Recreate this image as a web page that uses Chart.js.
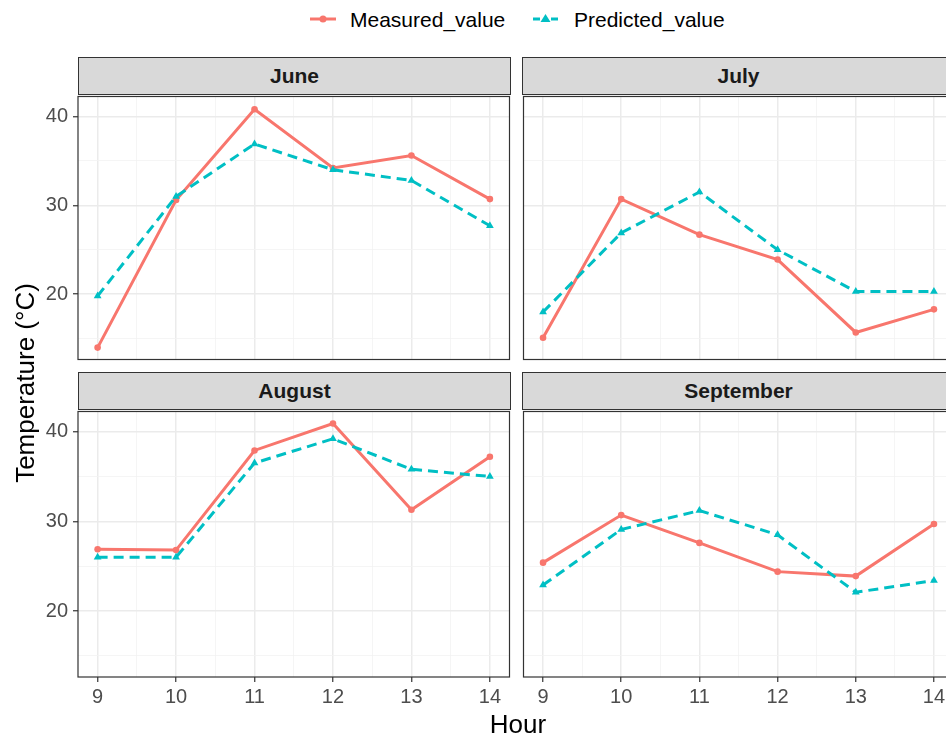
<!DOCTYPE html>
<html>
<head>
<meta charset="utf-8">
<script src="https://cdn.jsdelivr.net/npm/chart.js@4.4.0/dist/chart.umd.min.js"></script>
<style>
  body { margin: 0; background: #fff; }
  #wrap { position: relative; width: 946px; height: 738px; overflow: hidden; background: #fff;
          font-family: "Liberation Sans", Arial, sans-serif; }
  .strip { position: absolute; background: #D9D9D9; border: 1.2px solid #333; box-sizing: border-box;
           text-align: center; font-weight: bold; font-size: 21px; color: #1A1A1A; line-height: 36px; }
  .panel { position: absolute; }
  .legtext { position: absolute; top: 8px; font-size: 21px; line-height: 24px; color: #000; white-space: nowrap; }
  .title { position: absolute; font-size: 26px; line-height: 30px; color: #000; text-align: center; white-space: nowrap; }
</style>
</head>
<body>
<div id="wrap">
  <svg style="position:absolute;left:308px;top:9px" width="30" height="20">
    <line x1="2" y1="10" x2="28" y2="10" stroke="#F8766D" stroke-width="3"/>
    <circle cx="15" cy="10" r="3.5" fill="#F8766D"/>
  </svg>
  <div class="legtext" style="left:350px">Measured_value</div>
  <svg style="position:absolute;left:531px;top:9px" width="30" height="20">
    <line x1="2" y1="10" x2="9" y2="10" stroke="#00BFC4" stroke-width="3"/>
    <line x1="20" y1="10" x2="27" y2="10" stroke="#00BFC4" stroke-width="3"/>
    <polygon points="14.5,5 19.5,13 9.5,13" fill="#00BFC4"/>
  </svg>
  <div class="legtext" style="left:574px">Predicted_value</div>

  <div class="strip" style="left:78px;top:57px;width:433px;height:38px">June</div>
  <div class="strip" style="left:522px;top:57px;width:433px;height:38px">July</div>
  <div class="strip" style="left:78px;top:372px;width:433px;height:38px">August</div>
  <div class="strip" style="left:522px;top:372px;width:433px;height:38px">September</div>

  <div class="panel" style="left:0;top:92px"><canvas id="c0" width="514" height="272"></canvas></div>
  <div class="panel" style="left:519px;top:92px"><canvas id="c1" width="439" height="272"></canvas></div>
  <div class="panel" style="left:0;top:407px"><canvas id="c2" width="514" height="310"></canvas></div>
  <div class="panel" style="left:519px;top:407px"><canvas id="c3" width="439" height="310"></canvas></div>

  <div class="title" style="left:418px;top:709px;width:200px">Hour</div>
  <div class="title" style="left:-105px;top:368px;width:260px;transform:rotate(-90deg)">Temperature (°C)</div>
</div>

<script>
const hours = [9, 10, 11, 12, 13, 14];
const months = ['June', 'July', 'August', 'September'];

const measuredJune = [14.0, 30.6, 40.8, 34.2, 35.6, 30.7];
const predictedJune = [19.8, 31.0, 36.9, 34.0, 32.8, 27.7];
const measuredJuly = [15.1, 30.7, 26.7, 23.9, 15.7, 18.3];
const predictedJuly = [18.0, 26.9, 31.5, 25.0, 20.3, 20.3];
const measuredAugust = [26.9, 26.8, 37.9, 40.9, 31.3, 37.2];
const predictedAugust = [26.0, 26.0, 36.5, 39.2, 35.8, 35.0];
const measuredSeptember = [25.4, 30.7, 27.6, 24.4, 23.9, 29.7];
const predictedSeptember = [22.9, 29.1, 31.2, 28.5, 22.1, 23.4];

const xMajorTicks = [9, 10, 11, 12, 13, 14];
const xMinorTicks = [9.5, 10.5, 11.5, 12.5, 13.5];
const yMajorTicks = [20, 30, 40];
const yMinorTicks = [15, 25, 35];
const xMin = 8.75, xMax = 14.25;
const yMin = 12.66, yMax = 42.24;

const measured = [measuredJune, measuredJuly, measuredAugust, measuredSeptember];
const predicted = [predictedJune, predictedJuly, predictedAugust, predictedSeptember];

const panelBorder = {
    id: 'panelBorder',
    afterDatasetsDraw(chart) {
        const { ctx, chartArea: a } = chart;
        ctx.save();
        ctx.strokeStyle = '#333333';
        ctx.lineWidth = 1.2;
        ctx.strokeRect(a.left, a.top, a.right - a.left, a.bottom - a.top);
        ctx.restore();
    }
};

const allTicks = (major, minor) => major.concat(minor).sort((a, b) => a - b).map(v => ({ value: v }));
const gridColor = major => c => major.includes(c.tick.value) ? '#EBEBEB' : '#F3F3F3';
const gridWidth = major => c => major.includes(c.tick.value) ? 1.5 : 0.8;
const tickColor = major => c => major.includes(c.tick.value) ? '#333333' : 'rgba(0,0,0,0)';
// keep the plot area fixed: no extra room for the outer tick labels
const noPadding = s => { s.paddingTop = 0; s.paddingBottom = 0; s.paddingLeft = 0; s.paddingRight = 0; };

months.forEach((month, i) => {
    const left = i % 2 === 0;
    const bottom = i >= 2;
    const toPoints = vals => hours.map((h, k) => ({ x: h, y: vals[k] }));

    new Chart(document.getElementById('c' + i), {
        type: 'line',
        data: {
            datasets: [{
                label: 'Predicted_value',
                data: toPoints(predicted[i]),
                borderColor: '#00BFC4',
                backgroundColor: '#00BFC4',
                borderWidth: 3,
                borderDash: [10, 6],
                pointStyle: 'triangle',
                pointRadius: 4.5,
                pointBorderWidth: 0,
                tension: 0
            }, {
                label: 'Measured_value',
                data: toPoints(measured[i]),
                borderColor: '#F8766D',
                backgroundColor: '#F8766D',
                borderWidth: 3,
                pointStyle: 'circle',
                pointRadius: 3.3,
                pointBorderWidth: 0,
                tension: 0
            }]
        },
        options: {
            responsive: false,
            animation: false,
            layout: { padding: { top: 3, right: 3, left: left ? 0 : 3, bottom: bottom ? 0 : 3 } },
            plugins: { legend: { display: false }, tooltip: { enabled: false } },
            scales: {
                x: {
                    type: 'linear',
                    min: xMin,
                    max: xMax,
                    afterBuildTicks: s => { s.ticks = allTicks(xMajorTicks, xMinorTicks); },
                    afterFit: s => { s.height = bottom ? 40 : 0; noPadding(s); },
                    border: { display: false },
                    grid: {
                        color: gridColor(xMajorTicks),
                        lineWidth: gridWidth(xMajorTicks),
                        drawTicks: bottom,
                        tickLength: 5,
                        tickColor: tickColor(xMajorTicks),
                        tickWidth: 1.2
                    },
                    ticks: {
                        display: bottom,
                        autoSkip: false,
                        maxRotation: 0,
                        padding: 3,
                        color: '#4D4D4D',
                        font: { family: '"Liberation Sans", Arial, sans-serif', size: 20 },
                        callback: v => xMajorTicks.includes(v) ? String(v) : ''
                    }
                },
                y: {
                    type: 'linear',
                    min: yMin,
                    max: yMax,
                    afterBuildTicks: s => { s.ticks = allTicks(yMajorTicks, yMinorTicks); },
                    afterFit: s => { s.width = left ? 78 : 0; noPadding(s); },
                    border: { display: false },
                    grid: {
                        color: gridColor(yMajorTicks),
                        lineWidth: gridWidth(yMajorTicks),
                        drawTicks: left,
                        tickLength: 5,
                        tickColor: tickColor(yMajorTicks),
                        tickWidth: 1.2
                    },
                    ticks: {
                        display: left,
                        autoSkip: false,
                        padding: 5,
                        color: '#4D4D4D',
                        font: { family: '"Liberation Sans", Arial, sans-serif', size: 20 },
                        callback: v => yMajorTicks.includes(v) ? String(v) : ''
                    }
                }
            }
        },
        plugins: [panelBorder]
    });
});
</script>
</body>
</html>
